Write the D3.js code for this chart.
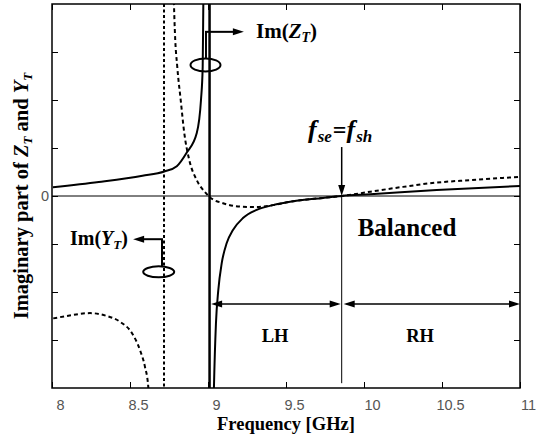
<!DOCTYPE html>
<html><head><meta charset="utf-8">
<script src="https://cdn.jsdelivr.net/npm/d3@7"></script>
<style>body{margin:0;background:#fff}</style>
</head><body>
<svg id="c" width="543" height="439"></svg>
<script>
// ---- data (frequency in GHz, imaginary part in arbitrary tick units) ----
const xTicks = [8, 8.5, 9, 9.5, 10, 10.5, 11];
const xTickLabels = ["8", "8.5", "9", "9.5", "10", "10.5", "11"];
const yTicks = [-3, -2, -1, 0, 1, 2, 3];
const yTickLabels = ["", "", "", "0", "", "", ""];

// Im(Z_T), solid, two branches
const zLowBranch = [[8.006,0.18],[8.30,0.29],[8.58,0.42],[8.72,0.51],[8.80,0.62],[8.863,0.90],[8.928,1.31],[8.955,2.0],[8.966,2.69],[8.970,4.0],[8.972,4.6]];
const zHighBranch = [[9.034,-4.6],[9.038,-4.0],[9.051,-2.65],[9.066,-1.96],[9.088,-1.40],[9.12,-0.98],[9.16,-0.71],[9.224,-0.46],[9.312,-0.29],[9.417,-0.19],[9.526,-0.12],[9.737,-0.04],[9.857,0],[10.04,0.035],[10.466,0.125],[11,0.21]];
// Im(Y_T), dashed, two branches
const yLowBranch = [[8.008,-2.55],[8.094,-2.50],[8.244,-2.44],[8.351,-2.50],[8.436,-2.62],[8.511,-2.85],[8.564,-3.21],[8.596,-3.56],[8.617,-3.97],[8.624,-4.5]];
const yHighBranch = [[8.779,4.5],[8.782,4.0],[8.788,3.40],[8.803,2.69],[8.825,2.0],[8.848,1.31],[8.88,0.75],[8.928,0.33],[8.981,0.08],[9.01,-0.02],[9.096,-0.15],[9.205,-0.22],[9.312,-0.23],[9.417,-0.19],[9.526,-0.12],[9.737,-0.04],[9.857,0],[10.04,0.09],[10.25,0.19],[10.466,0.28],[10.68,0.33],[11,0.40]];
// discontinuity joins
const zJumpFreq = 9.01;
const yJumpFreq = 8.718;
// balanced frequency f_se = f_sh
const fBalanced = [9.857];

// ---- layout ----
const svg = d3.select("#c");
const L = 52, R = 520, T = 4, B = 388;
const x = d3.scaleLinear().domain([8, 11]).range([L, R]);
const y = d3.scaleLinear().domain([-4, 4]).range([B, T]);
const serif = "'Liberation Serif','Times New Roman',serif";
const sans = "'Liberation Sans',Arial,sans-serif";

svg.append("rect").attr("width", 543).attr("height", 439).attr("fill", "#fff");
svg.append("defs").append("clipPath").attr("id", "clip")
  .append("rect").attr("x", L).attr("y", T).attr("width", R - L).attr("height", B - T);

// axes
const gB = svg.append("g").attr("transform", `translate(0,${B})`)
  .call(d3.axisBottom(x).tickValues(xTicks).tickSizeInner(-6).tickSizeOuter(0).tickPadding(12)
    .tickFormat((d, i) => xTickLabels[i]));
const gT = svg.append("g").attr("transform", `translate(0,${T})`)
  .call(d3.axisTop(x).tickValues(xTicks).tickSizeInner(-6).tickSizeOuter(0).tickFormat(""));
const gL = svg.append("g").attr("transform", `translate(${L},0)`)
  .call(d3.axisLeft(y).tickValues(yTicks).tickSizeInner(-6).tickSizeOuter(0).tickPadding(3)
    .tickFormat((d, i) => yTickLabels[i]));
const gR = svg.append("g").attr("transform", `translate(${R},0)`)
  .call(d3.axisRight(y).tickValues(yTicks).tickSizeInner(-6).tickSizeOuter(0).tickFormat(""));
[gB, gT, gL, gR].forEach(g => {
  g.select(".domain").remove();
  g.selectAll("line").attr("stroke", "#000").attr("stroke-width", 1);
  g.selectAll("text").attr("fill", "#555").style("font-family", sans).style("font-size", "14.5px");
});
gB.selectAll("text").attr("dx", 8);

svg.append("rect").attr("x", L).attr("y", T).attr("width", R - L).attr("height", B - T)
  .attr("fill", "none").attr("stroke", "#000").attr("stroke-width", 1.5);

// zero line
svg.append("line").attr("x1", L).attr("x2", R).attr("y1", y(0)).attr("y2", y(0))
  .attr("stroke", "#000").attr("stroke-width", 1);

const plot = svg.append("g").attr("clip-path", "url(#clip)");
const line = d3.line().x(d => x(d[0])).y(d => y(d[1])).curve(d3.curveMonotoneX);

[zLowBranch, zHighBranch].forEach(s => plot.append("path").attr("d", line(s))
  .attr("fill", "none").attr("stroke", "#000").attr("stroke-width", 2));
[yLowBranch, yHighBranch].forEach(s => plot.append("path").attr("d", line(s))
  .attr("fill", "none").attr("stroke", "#000").attr("stroke-width", 2).attr("stroke-dasharray", "4,3"));

plot.append("line").attr("x1", x(zJumpFreq)).attr("x2", x(zJumpFreq)).attr("y1", T).attr("y2", B)
  .attr("stroke", "#000").attr("stroke-width", 2.5);
plot.append("line").attr("x1", x(yJumpFreq)).attr("x2", x(yJumpFreq)).attr("y1", T).attr("y2", B)
  .attr("stroke", "#000").attr("stroke-width", 2).attr("stroke-dasharray", "3,2.5");

// helpers
function head(x0, y0, dir) {
  const len = 11, w = 3.5;
  let pts;
  if (dir === "right") pts = [[x0, y0], [x0 - len, y0 - w], [x0 - len, y0 + w]];
  if (dir === "left") pts = [[x0, y0], [x0 + len, y0 - w], [x0 + len, y0 + w]];
  if (dir === "down") pts = [[x0, y0], [x0 - w, y0 - len], [x0 + w, y0 - len]];
  svg.append("polygon").attr("points", pts.map(p => p.join(",")).join(" ")).attr("fill", "#000");
}
function seg(x1, y1, x2, y2, w) {
  svg.append("line").attr("x1", x1).attr("y1", y1).attr("x2", x2).attr("y2", y2)
    .attr("stroke", "#000").attr("stroke-width", w || 1.5);
}

// f_se = f_sh marker
const xb = x(fBalanced[0]);
seg(xb, y(1.02), xb, y(0) - 8, 1.5);
head(xb, y(0), "down");
seg(xb, y(0), xb, y(-3.9), 1);

// LH / RH arrows
const yArr = y(-2.25);
seg(x(9.02) + 4, yArr, xb - 4, yArr, 1.5);
head(x(9.02), yArr, "left"); head(xb - 1, yArr, "right");
seg(xb + 5, yArr, R - 4, yArr, 1.5);
head(xb + 2, yArr, "left"); head(R, yArr, "right");

// ellipse + arrow for Im(Z_T)
svg.append("ellipse").attr("cx", x(8.984)).attr("cy", y(2.73)).attr("rx", 15).attr("ry", 6.5)
  .attr("fill", "none").attr("stroke", "#000").attr("stroke-width", 2);
seg(x(8.987), y(2.73) - 6.5, x(8.987), y(3.42), 2);
seg(x(8.987) - 1, y(3.42), x(9.23) - 8, y(3.42), 2);
head(x(9.23), y(3.42), "right");

// ellipse + arrow for Im(Y_T)
svg.append("ellipse").attr("cx", x(8.684)).attr("cy", y(-1.58)).attr("rx", 15.5).attr("ry", 5.5)
  .attr("fill", "none").attr("stroke", "#000").attr("stroke-width", 2);
seg(x(8.705), y(-1.58) - 5.5, x(8.705), y(-0.9), 2);
seg(x(8.705) + 1, y(-0.9), x(8.52) + 8, y(-0.9), 2);
head(x(8.52), y(-0.9), "left");

// texts
function richText(g, parts) {
  parts.forEach(p => {
    const t = g.append("tspan").text(p.t);
    if (p.i) t.attr("font-style", "italic");
    if (p.s) t.attr("font-size", p.s);
    if (p.dy) t.attr("dy", p.dy);
    if (p.dx) t.attr("dx", p.dx);
  });
}
const t1 = svg.append("text").attr("x", 256).attr("y", 38).attr("font-family", serif)
  .attr("font-weight", "bold").attr("font-size", 21);
richText(t1, [{t: "Im("}, {t: "Z", i: 1}, {t: "T", i: 1, s: 14, dy: 4}, {t: ")", dy: -4}]);

const t2 = svg.append("text").attr("x", 70).attr("y", 245).attr("font-family", serif)
  .attr("font-weight", "bold").attr("font-size", 20);
richText(t2, [{t: "Im("}, {t: "Y", i: 1}, {t: "T", i: 1, s: 13, dy: 4}, {t: ")", dy: -4}]);

const t3 = svg.append("text").attr("x", 308).attr("y", 138).attr("font-family", serif)
  .attr("font-weight", "bold").attr("font-size", 26);
richText(t3, [{t: "f", i: 1}, {t: "se", i: 1, s: 17, dy: 4, dx: 1}, {t: "=", s: 24, dy: -4, dx: 1},
  {t: "f", i: 1}, {t: "sh", i: 1, s: 17, dy: 4, dx: 1}]);

svg.append("text").attr("x", 407).attr("y", 236).attr("text-anchor", "middle")
  .attr("font-family", serif).attr("font-weight", "bold").attr("font-size", 25).text("Balanced");
svg.append("text").attr("x", 275).attr("y", 342).attr("text-anchor", "middle")
  .attr("font-family", serif).attr("font-weight", "bold").attr("font-size", 18.5).text("LH");
svg.append("text").attr("x", 420).attr("y", 342).attr("text-anchor", "middle")
  .attr("font-family", serif).attr("font-weight", "bold").attr("font-size", 18.5).text("RH");

svg.append("text").attr("x", (L + R) / 2).attr("y", 430).attr("text-anchor", "middle")
  .attr("font-family", serif).attr("font-weight", "bold").attr("font-size", 18.5).text("Frequency [GHz]");

const yl = svg.append("text").attr("transform", "translate(28,196) rotate(-90)").attr("text-anchor", "middle")
  .attr("font-family", serif).attr("font-weight", "bold").attr("font-size", 20.5);
richText(yl, [{t: "Imaginary part of "}, {t: "Z", i: 1}, {t: "T", i: 1, s: 13, dy: 4},
  {t: " and ", dy: -4}, {t: "Y", i: 1}, {t: "T", i: 1, s: 13, dy: 4}]);
</script>
</body></html>
